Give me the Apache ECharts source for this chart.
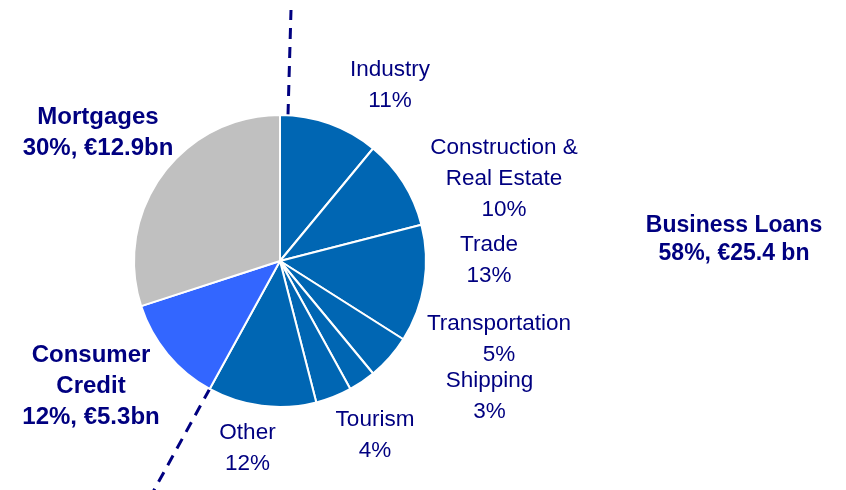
<!DOCTYPE html>
<html><head><meta charset="utf-8">
<script src="https://cdn.jsdelivr.net/npm/echarts@6/dist/echarts.min.js"></script>
<style>html,body{margin:0;padding:0;background:#fff}#c{width:846px;height:490px}</style>
</head><body><div id="c"></div>
<script>
// Data
var categories = ['Industry','Construction &\nReal Estate','Trade','Transportation','Shipping','Tourism','Other','Consumer\nCredit','Mortgages'];
var shares = [11,10,13,5,3,4,12,12,30];
var amountLabels = ['','','','','','','','€5.3bn','€12.9bn'];
var groups = ['business','business','business','business','business','business','business','consumer','mortgage'];
var businessTitle = 'Business Loans';
var businessSub = '58%, €25.4 bn';

// Layout / style (not data)
var CX = 280, CY = 261, R = 146;
var navy = '#000080';
var colors = {business:'#0066B3', consumer:'#3366FF', mortgage:'#C0C0C0'};
var labelPos = [[390,85],[504,179],[489,260.5],[499,339.5],[489.5,396],[375,435.5],[247.5,448.5],[91,386],[98,132.5]];

var total = shares.reduce(function(a,b){return a+b;},0);
function boundaryAngle(k){ // clockwise degrees from top after first k slices
  var s=0; for(var i=0;i<k;i++) s+=shares[i]; return s/total*360;
}
function pt(angDeg, r, dx){
  var a = angDeg*Math.PI/180;
  return [CX + r*Math.sin(a) + (dx||0), CY - r*Math.cos(a)];
}
var nBiz = groups.filter(function(g){return g==='business';}).length;
var aBottom = boundaryAngle(nBiz);
var b0 = pt(aBottom, R), b1 = pt(aBottom, R+120);
var t0 = pt(0, R, 8), t1 = [CX+11, CY-R-105];

var data = shares.map(function(v,i){
  var g = groups[i];
  var txt;
  if (g==='business') txt = categories[i] + '\n' + v + '%';
  else txt = '{b|' + categories[i].split('\n').join('}\n{b|') + '}\n{b|' + v + '%, ' + amountLabels[i] + '}';
  return {value:v, name:categories[i].replace('\n',' '), itemStyle:{color:colors[g]}, label:{formatter:txt}};
});

var chart = echarts.init(document.getElementById('c'), null, {renderer:'canvas'});
chart.setOption({
  animation:false,
  series:[{
    type:'pie', center:[CX,CY], radius:R, startAngle:90, clockwise:true,
    itemStyle:{borderColor:'#fff', borderWidth:2},
    label:{show:true, position:'outside', overflow:'none', color:navy, fontFamily:'Liberation Sans, Arial', fontSize:22.5, lineHeight:31,
      rich:{b:{fontWeight:'bold', fontSize:24, lineHeight:31, color:navy, fontFamily:'Liberation Sans, Arial'}}},
    labelLine:{show:false},
    labelLayout:function(p){ var q=labelPos[p.dataIndex]; return {x:q[0], y:q[1], align:'center', verticalAlign:'middle'}; },
    emphasis:{disabled:true},
    data:data
  }],
  graphic:[
    {type:'line', shape:{x1:t0[0],y1:t0[1],x2:t1[0],y2:t1[1]}, style:{stroke:navy, lineWidth:3, lineDash:[11,8]}},
    {type:'line', shape:{x1:b0[0],y1:b0[1],x2:b1[0],y2:b1[1]}, style:{stroke:navy, lineWidth:3, lineDash:[11,8]}},
    {type:'text', x:734, y:240, style:{text:businessTitle+'\n'+businessSub, fill:navy, font:'bold 23px "Liberation Sans", Arial', align:'center', verticalAlign:'middle', lineHeight:28}}
  ]
});
</script></body></html>
